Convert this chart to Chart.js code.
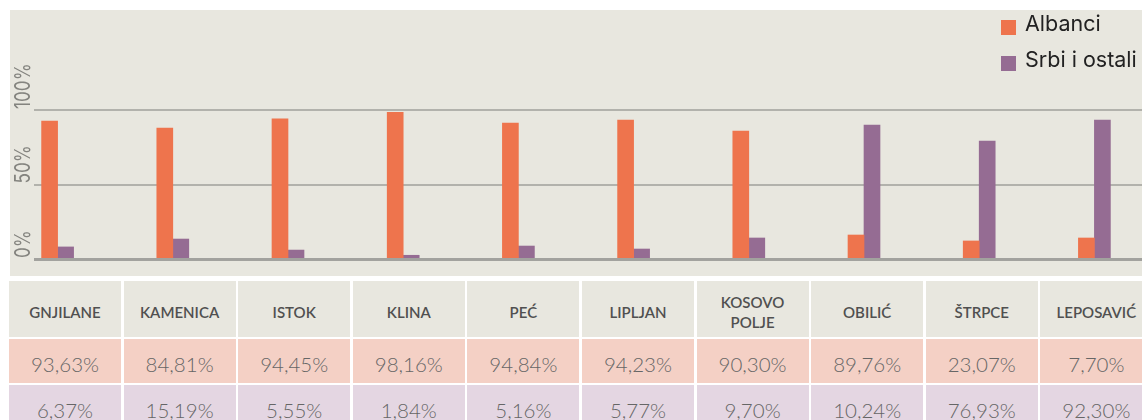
<!DOCTYPE html>
<html>
<head>
<meta charset="utf-8">
<script src="https://cdn.jsdelivr.net/npm/chart.js@4"></script>
<style>
    body {
        margin: 0;
        width: 1142px;
        height: 420px;
        overflow: hidden;
        background: #ffffff;
        font-family: Inter, "Noto Sans", sans-serif;
        position: relative;
    }
    #chartBg {
        position: absolute;
        left: 10px;
        top: 10px;
        width: 1150px;
        height: 266px;
        background: #e8e7df;
    }
    #chartCanvas {
        position: absolute;
        left: 0;
        top: 0;
    }
    #legend {
        position: absolute;
        left: 1001px;
        top: 12px;
        width: 160px;
    }
    .legend-item {
        position: relative;
        height: 36px;
        line-height: 22px;
        font-size: 21.5px;
        font-weight: 400;
        color: #222;
        white-space: nowrap;
    }
    .legend-item .box {
        position: absolute;
        left: 0;
        top: 8px;
        width: 15px;
        height: 15px;
    }
    .legend-item .txt {
        position: absolute;
        left: 24px;
        top: 0;
    }
    #dataTable {
        position: absolute;
        left: 9px;
        top: 281px;
        display: grid;
        grid-template-columns: repeat(10, 112px);
        grid-template-rows: 56px 44px 44px;
        column-gap: 2.6px;
        row-gap: 2px;
    }
    #dataTable div {
        display: flex;
        align-items: center;
        justify-content: center;
        text-align: center;
        box-sizing: border-box;
        padding: 6px 11px 0 11px;
    }
    .head {
        background: #e8e7df;
        color: #505050;
        font-family: Lato, sans-serif;
        font-size: 15px;
        font-weight: 600;
        line-height: 20px;
    }
    .alb, .srb {
        color: #666;
        font-family: Lato, sans-serif;
        font-size: 20.5px;
        font-weight: 300;
    }
    .alb { background: #f4d0c5; }
    .srb { background: #e4d6e2; }
</style>
</head>
<body>
<div id="chartBg"></div>
<canvas id="chartCanvas" width="1160" height="280" style="width:1160px;height:280px"></canvas>
<div id="legend"></div>
<div id="dataTable"></div>

<script>
// municipalities
const municipalities = ['GNJILANE', 'KAMENICA', 'ISTOK', 'KLINA', 'PEĆ', 'LIPLJAN', 'KOSOVO POLJE', 'OBILIĆ', 'ŠTRPCE', 'LEPOSAVIĆ'];

// bar heights as drawn in the chart (%)
const albanciBars = [92.6, 87.9, 94.0, 98.4, 91.3, 93.3, 85.9, 16.1, 12.1, 14.1];
const srbiBars = [8.1, 13.4, 6.0, 2.5, 8.7, 6.7, 14.1, 89.9, 79.2, 93.3];

// values printed in the table (%)
const albanciTable = [93.63, 84.81, 94.45, 98.16, 94.84, 94.23, 90.30, 89.76, 23.07, 7.70];
const srbiTable = [6.37, 15.19, 5.55, 1.84, 5.16, 5.77, 9.70, 10.24, 76.93, 92.30];

// y axis ticks
const yTicks = [0, 50, 100];

const seriesNames = ['Albanci', 'Srbi i ostali'];
const seriesColors = ['#ee744d', '#956c93'];

// grid lines behind bars, zero line on top
const gridPlugin = {
    id: 'gridLines',
    beforeDatasetsDraw(chart) {
        const ctx = chart.ctx;
        const y = chart.scales.y;
        ctx.save();
        yTicks.forEach(v => {
            if (v === 0) return;
            const py = Math.round(y.getPixelForValue(v));
            ctx.strokeStyle = '#b2b2ac';
            ctx.lineWidth = 2;
            ctx.beginPath();
            ctx.moveTo(34, py);
            ctx.lineTo(chart.width, py);
            ctx.stroke();
        });
        ctx.restore();
    },
    afterDatasetsDraw(chart) {
        const ctx = chart.ctx;
        const py = chart.scales.y.getPixelForValue(0);
        ctx.save();
        ctx.strokeStyle = '#a2a29e';
        ctx.lineWidth = 3;
        ctx.beginPath();
        ctx.moveTo(34, py + 0.5);
        ctx.lineTo(chart.width, py + 0.5);
        ctx.stroke();
        ctx.restore();
    }
};

// rotated y labels sitting above each grid line
const yLabelPlugin = {
    id: 'yLabels',
    afterDraw(chart) {
        const ctx = chart.ctx;
        const y = chart.scales.y;
        ctx.save();
        ctx.font = '400 22px Inter';
        ctx.fillStyle = '#84847f';
        ctx.textAlign = 'left';
        ctx.textBaseline = 'alphabetic';
        yTicks.forEach(v => {
            const py = y.getPixelForValue(v);
            ctx.save();
            ctx.translate(30, py - 1);
            ctx.rotate(-Math.PI / 2);
            ctx.scale(0.78, 1);
            ctx.fillText(v + '%', 0, 0);
            ctx.restore();
        });
        ctx.restore();
    }
};

const ctx = document.getElementById('chartCanvas').getContext('2d');
const chart = new Chart(ctx, {
    type: 'bar',
    data: {
        labels: municipalities,
        datasets: [{
            label: seriesNames[0],
            data: albanciBars,
            backgroundColor: seriesColors[0],
            borderWidth: 0,
            barThickness: 16
        }, {
            label: seriesNames[1],
            data: srbiBars,
            backgroundColor: seriesColors[1],
            borderWidth: 0,
            barThickness: 16
        }]
    },
    options: {
        responsive: false,
        devicePixelRatio: 1,
        animation: false,
        layout: {
            padding: { top: 110, bottom: 21, left: 0, right: 8 }
        },
        plugins: {
            legend: { display: false },
            tooltip: { enabled: false }
        },
        scales: {
            x: {
                display: false
            },
            y: {
                display: false,
                min: 0,
                max: 100
            }
        }
    },
    plugins: [gridPlugin, yLabelPlugin]
});

// legend built from the chart datasets
const legendEl = document.getElementById('legend');
chart.data.datasets.forEach(ds => {
    const item = document.createElement('div');
    item.className = 'legend-item';
    item.innerHTML = '<span class="box" style="background:' + ds.backgroundColor + '"></span><span class="txt">' + ds.label + '</span>';
    legendEl.appendChild(item);
});

// table under the chart
function fmt(v) {
    return v.toFixed(2).replace('.', ',') + '%';
}
const table = document.getElementById('dataTable');
function addRow(values, cls) {
    values.forEach(v => {
        const cell = document.createElement('div');
        cell.className = cls;
        cell.textContent = v;
        table.appendChild(cell);
    });
}
addRow(municipalities, 'head');
addRow(albanciTable.map(fmt), 'alb');
addRow(srbiTable.map(fmt), 'srb');
</script>
</body>
</html>
